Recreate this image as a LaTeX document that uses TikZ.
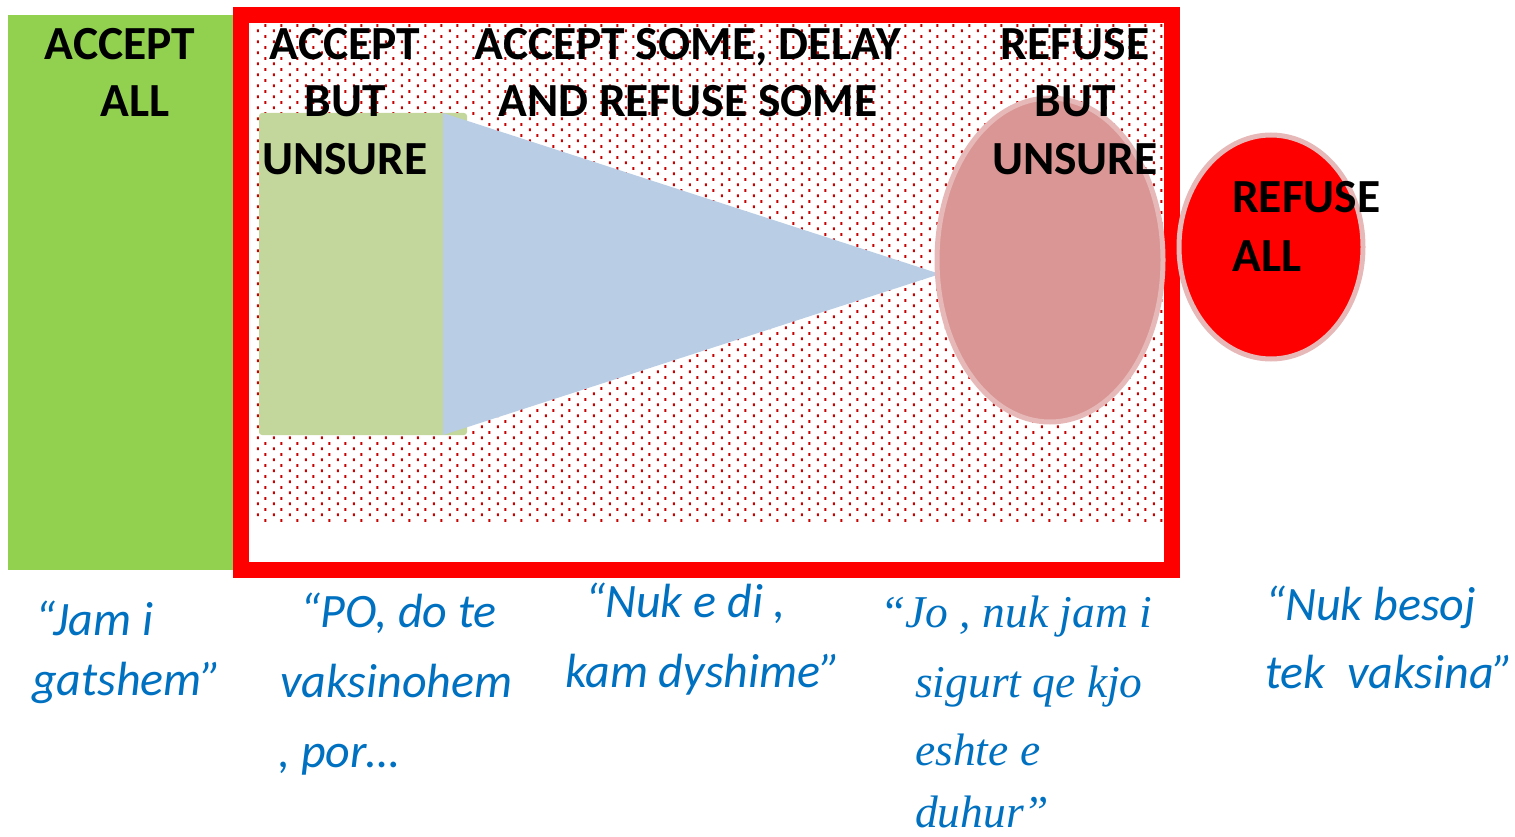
\documentclass[tikz,border=0pt]{standalone}
\usepackage{fontspec}
\setmainfont{Carlito}
\newfontfamily\serifit{Liberation Serif}[Scale=1.0]
\usetikzlibrary{patterns.meta}
\definecolor{allgreen}{HTML}{92D050}
\definecolor{lightgreen}{HTML}{C3D69B}
\definecolor{triblue}{HTML}{B9CDE5}
\definecolor{pinkfill}{HTML}{D99694}
\definecolor{pinkedge}{HTML}{E6B9B8}
\definecolor{framered}{HTML}{FF0000}
\definecolor{dotred}{HTML}{C80000}
\definecolor{quoteblue}{HTML}{0070C0}
\tikzdeclarepattern{
  name=reddots, type=colored,
  bottom left={(0pt,0pt)}, top right={(16pt,10.67pt)},
  tile size={(16pt,10.67pt)},
  code={\fill[dotred] (1pt,1pt) rectangle (3pt,3.8pt);
        \fill[dotred] (9pt,6.33pt) rectangle (11pt,9.13pt);}
}
\tikzset{
  hdr/.style={font=\bfseries\fontsize{47.5}{58}\selectfont, anchor=base, inner sep=0pt, text=black},
  hdrl/.style={hdr, anchor=base west},
  quote/.style={font=\itshape\fontsize{48}{58}\selectfont, anchor=base west, inner sep=0pt, text=quoteblue},
  squote/.style={font=\serifit\itshape\fontsize{45.5}{58}\selectfont, anchor=base west, inner sep=0pt, text=quoteblue}
}
\begin{document}
\begin{tikzpicture}[x=1pt,y=-1pt]
\useasboundingbox (0,0) rectangle (1515,837);
% accept all column
\fill[allgreen] (8,15) rectangle (233,570);
% frame interior and dots
\fill[white] (241,15) rectangle (1172,570);
\fill[pattern=reddots] (255,25) rectangle (1163,522);
\draw[framered, line width=16pt] (241,15) rectangle (1172,570);
% accept but unsure box
\fill[lightgreen, rounded corners=3pt] (259,113) rectangle (467,435);
% funnel
\fill[triblue] (443,113) -- (940,274) -- (443,435) -- cycle;
% refuse but unsure ellipse
\filldraw[fill=pinkfill, draw=pinkedge, line width=5pt] (1050,260) ellipse [x radius=113pt, y radius=162pt];
% refuse all
\filldraw[fill=framered, draw=pinkedge, line width=5pt] (1271,247) ellipse [x radius=92pt, y radius=112pt];
% headers
\node[hdr] (aa1) at (120,60) {ACCEPT};
\node[hdr] (aa2) at (135,117) {ALL};
\node[hdr] (ab1) at (345,60) {ACCEPT};
\node[hdr] (ab2) at (345,117) {BUT};
\node[hdr] (ab3) at (345,175) {UNSURE};
\node[hdr] (as1) at (688,60) {ACCEPT SOME, DELAY};
\node[hdr] (as2) at (688,117) {AND REFUSE SOME};
\node[hdr] (rb1) at (1075,60) {REFUSE};
\node[hdr] (rb2) at (1075,117) {BUT};
\node[hdr] (rb3) at (1075,175) {UNSURE};
\node[hdrl] (ra1) at (1232,212) {REFUSE};
\node[hdrl] (ra2) at (1232,271) {ALL};
% quotes
\node[quote] (q1a) at (35,635) {“Jam i};
\node[quote] (q1b) at (32,695) {gatshem”};
\node[quote] (q2a) at (300,627) {“PO, do te};
\node[quote] (q2b) at (280,697) {vaksinohem};
\node[quote] (q2c) at (278,767) {, por…};
\node[quote] (q3a) at (585,617) {“Nuk e di ,};
\node[quote] (q3b) at (565,687) {kam dyshime”};
\node[squote] (q4a) at (880,627) {“Jo , nuk jam i};
\node[squote] (q4b) at (915,697) {sigurt qe kjo};
\node[squote] (q4c) at (915,765) {eshte e};
\node[squote] (q4d) at (915,827) {duhur”};
\node[quote] (q5a) at (1265,620) {“Nuk besoj};
\node[quote] (q5b) at (1265,688) {tek\ \ vaksina”};
\end{tikzpicture}
\end{document}
